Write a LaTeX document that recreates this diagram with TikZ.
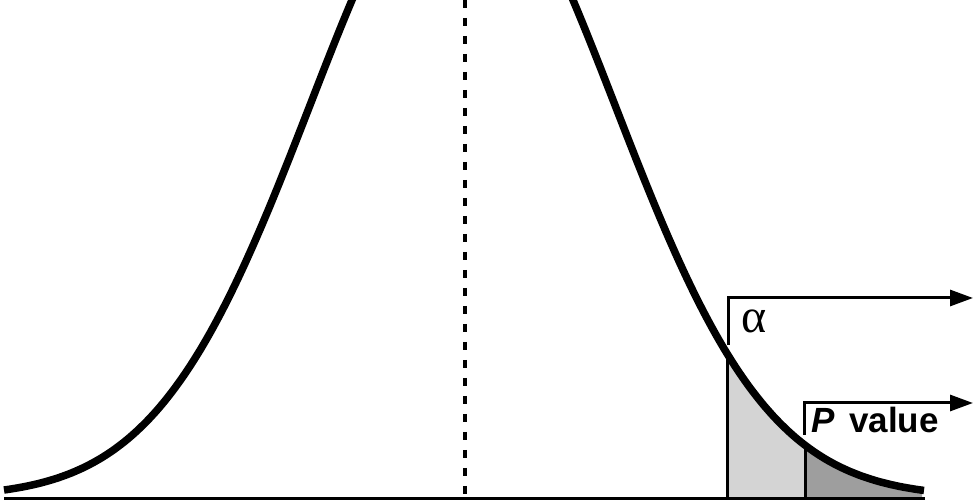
\documentclass[tikz,border=0pt]{standalone}
\usepackage{fontspec}
\setmainfont{Liberation Sans}
\newfontfamily\serifgreek{Liberation Serif}
\usetikzlibrary{arrows.meta}
\definecolor{lightshade}{RGB}{212,212,212}
\definecolor{darkshade}{RGB}{158,158,158}
\tikzset{
  bellcurve/.style={line width=7.5pt, line cap=butt, line join=round},
  rule/.style={line width=3pt},
  bracketarrow/.style={line width=3pt, line join=miter, -{Triangle[length=23pt,width=16pt]}},
  midline/.style={line width=4pt, dash pattern=on 8pt off 10pt},
  declare function={g(\t)=3+646*exp(-((\t-462.5)/100)^2/4.65);}
}
\begin{document}
\begin{tikzpicture}[x=1pt,y=1pt]
\useasboundingbox (0,0) rectangle (980,500);
\clip (0,0) rectangle (980,500);
% shaded tails
\fill[lightshade] (727,3) -- plot[domain=727:805,samples=40] (\x,{g(\x)}) -- (805,3) -- cycle;
\fill[darkshade] (805,3) -- plot[domain=805:922,samples=40] (\x,{g(\x)}) -- (922,3) -- cycle;
% boundaries of shaded regions
\coordinate (a0) at (727,2);
\coordinate (a1) at (727,{g(727)});
\coordinate (p0) at (805,2);
\coordinate (p1) at (805,{g(805)});
\draw[rule] (a0) -- (a1);
\draw[rule] (p0) -- (p1);
% baseline
\coordinate (b0) at (4,1.5);
\coordinate (b1) at (925,1.5);
\draw[rule] (b0) -- (b1);
% mean line
\coordinate (m0) at (465,500);
\coordinate (m1) at (465,3);
\draw[midline] (m0) -- (m1);
% curve
\draw[bellcurve] plot[domain=4:924,samples=300] (\x,{g(\x)});
% alpha bracket
\coordinate (ab) at (728,155);
\coordinate (ac) at (728,202);
\coordinate (at) at (973,202);
\draw[bracketarrow] (ab) -- (ac) -- (at);
% P value bracket
\coordinate (pb) at (804,65);
\coordinate (pc) at (804,97);
\coordinate (pt) at (973,97);
\draw[bracketarrow] (pb) -- (pc) -- (pt);
% labels
\node[inner sep=0pt, font=\serifgreek\fontsize{48}{48}\selectfont] (alpha) at (754,178.5) {α};
\node[anchor=base west, inner sep=0pt, font=\bfseries\fontsize{35}{35}\selectfont] (pval) at (811,67) {\textit{P}\hspace{5pt} value};
\end{tikzpicture}
\end{document}
